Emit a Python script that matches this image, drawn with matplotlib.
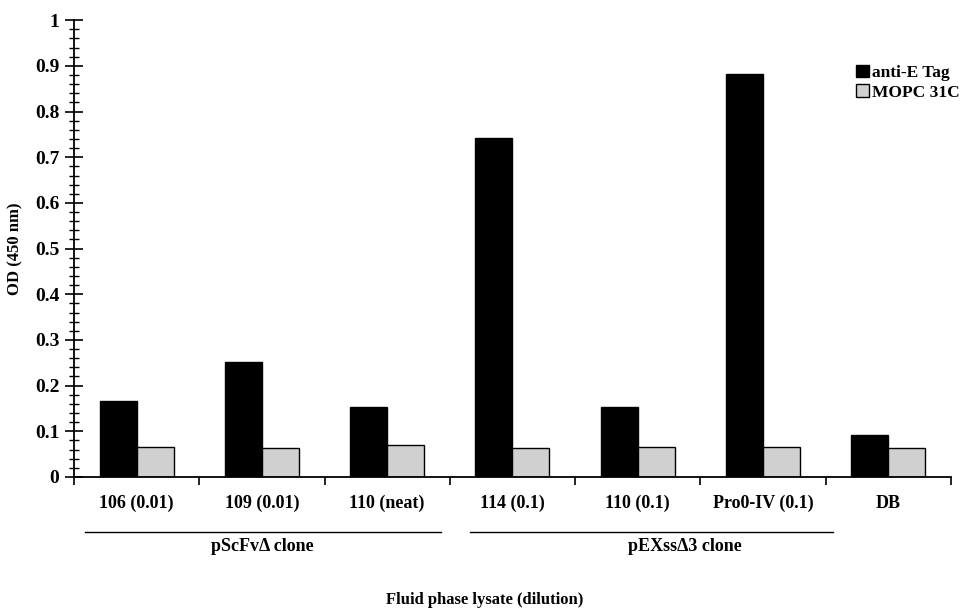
import matplotlib.pyplot as plt
import numpy as np

plt.rcParams['font.family'] = ['Liberation Serif', 'DejaVu Serif']
plt.rcParams['font.weight'] = 'bold'

categories = ['106 (0.01)', '109 (0.01)', '110 (neat)', '114 (0.1)',
              '110 (0.1)', 'Pro0-IV (0.1)', 'DB']
anti_e_tag = [0.167, 0.252, 0.153, 0.742, 0.153, 0.882, 0.092]
mopc_31c = [0.066, 0.063, 0.070, 0.063, 0.066, 0.066, 0.064]
group_names = ['pScFv\u0394 clone', 'pEXss\u03943 clone']
group_first = [0, 3]
group_last = [2, 5]

fig = plt.figure(figsize=(9.7, 6.13), dpi=100)
ax = fig.add_axes([0.0763, 0.222, 0.904, 0.745])

x = np.arange(len(categories))
w = 0.295
ax.bar(x - w / 2, anti_e_tag, w, color='black', edgecolor='black',
       linewidth=1, label='anti-E Tag')
ax.bar(x + w / 2, mopc_31c, w, color='#d0d0d0', edgecolor='black',
       linewidth=1, label='MOPC 31C')

ax.set_xlim(-0.5, len(categories) - 0.5)
ax.set_ylim(0, 1)
ax.set_yticks(np.arange(0, 1.01, 0.1))
ax.set_yticklabels(['0'] + ['%.1f' % v for v in np.arange(0.1, 0.95, 0.1)] + ['1'])
ax.set_yticks(np.arange(0, 1.001, 0.02), minor=True)
ax.set_xticks(np.arange(-0.5, len(categories), 1.0))
ax.set_xticklabels([])
ax.set_xticks(x, minor=True)
ax.set_xticklabels(categories, minor=True)
ax.tick_params(axis='x', which='minor', length=0, pad=13, labelsize=13)
ax.tick_params(axis='x', which='major', direction='out', length=6, width=1.2)
ax.tick_params(axis='y', which='major', direction='inout', length=13, width=1.2,
               labelsize=14, pad=4)
ax.tick_params(axis='y', which='minor', direction='inout', length=7, width=1)

for s in ['top', 'right']:
    ax.spines[s].set_visible(False)
for s in ['left', 'bottom']:
    ax.spines[s].set_linewidth(1.3)

ax.set_ylabel('OD (450 nm)', fontsize=12, fontweight='bold', labelpad=8)

# group brackets under the category labels
trans = ax.get_xaxis_transform()
line_pad = [(-0.41, 0.43), (-0.34, 0.56)]
for name, i0, i1, (p0, p1) in zip(group_names, group_first, group_last, line_pad):
    ax.plot([i0 + p0, i1 + p1], [-0.12, -0.12], color='black', lw=1,
            transform=trans, clip_on=False)
ax.text(1.0, -0.153, group_names[0], ha='center', va='center',
        fontsize=13, transform=trans)
ax.text(4.38, -0.153, group_names[1], ha='center', va='center',
        fontsize=13, transform=trans)

fig.text(0.5, 0.022, 'Fluid phase lysate (dilution)', ha='center',
         va='center', fontsize=12)

ax.legend(loc='upper left', bbox_to_anchor=(0.882, 0.922), frameon=False,
          handlelength=0.75, handleheight=0.75, handletextpad=0.15,
          labelspacing=0.2, borderpad=0, prop={'size': 12.5, 'weight': 'bold'})

fig.savefig('out.png', dpi=100)
